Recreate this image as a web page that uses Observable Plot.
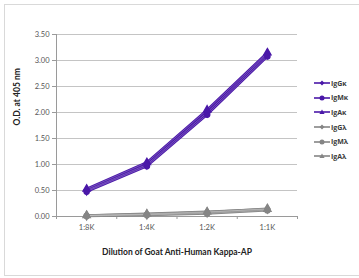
<!DOCTYPE html>
<html>
<head>
<meta charset="utf-8">
<script src="https://cdn.jsdelivr.net/npm/d3@7"></script>
<script src="https://cdn.jsdelivr.net/npm/@observablehq/plot@0.6"></script>
<style>
  body { margin: 0; background: #fff; }
  #wrap { position: relative; width: 359px; height: 278px; overflow: hidden; font-family: Lato, "Open Sans", sans-serif; }
  #frame { position: absolute; left: 4px; top: 4px; width: 370px; height: 272px; border: 1px solid #d9d9d9; box-sizing: border-box; }
  #legend { position: absolute; left: 314px; top: 76px; font-size: 7px; font-weight: bold; color: #3a3a3a; font-family: "Open Sans", "DejaVu Sans", sans-serif; }
  .item { display: flex; align-items: center; height: 14.6px; }
  .item svg { margin-right: 1px; }
</style>
</head>
<body>
<div id="wrap"><div id="frame"></div><div id="chart"></div><div id="legend"></div></div>
<script>
const dilutions = ["1:8K", "1:4K", "1:2K", "1:1K"];
const seriesNames = ["IgGκ", "IgMκ", "IgAκ", "IgGλ", "IgMλ", "IgAλ"];
const IgGk = [0.50, 1.00, 2.00, 3.12];
const IgMk = [0.48, 0.97, 1.96, 3.08];
const IgAk = [0.53, 1.04, 2.05, 3.15];
const IgGl = [0.02, 0.04, 0.08, 0.15];
const IgMl = [0.01, 0.03, 0.06, 0.12];
const IgAl = [0.02, 0.05, 0.09, 0.14];
const yTicks = [0, 0.5, 1, 1.5, 2, 2.5, 3, 3.5];

const purple = "#4a18a8";
const gray = "#858585";
const seriesValues = [IgGk, IgMk, IgAk, IgGl, IgMl, IgAl];
const colors = [purple, purple, purple, gray, gray, gray];
const symbols = ["diamond", "circle", "triangle", "diamond", "circle", "triangle"];

const data = [];
seriesNames.forEach((s, si) => {
  seriesValues[si].forEach((v, i) => data.push({series: s, idx: i + 0.5, value: v, color: colors[si], symbol: symbols[si]}));
});

const chart = Plot.plot({
  width: 359,
  height: 278,
  marginLeft: 56,
  marginRight: 62,
  marginTop: 34,
  marginBottom: 62,
  style: {fontFamily: "Lato, 'Open Sans', sans-serif", background: "transparent"},
  x: {domain: [0, 4]},
  y: {domain: [0, 3.5]},
  marks: [
    Plot.gridY(yTicks, {stroke: "#c4c4c4", strokeOpacity: 1}),
    Plot.ruleX([0], {stroke: "#9a9a9a"}),
    Plot.ruleY([0], {stroke: "#9a9a9a"}),
    Plot.axisY(yTicks, {tickFormat: d => d.toFixed(2), tickSize: 4, tickPadding: 3, fontSize: 7.5, fill: "#555", stroke: "#9a9a9a", label: null}),
    Plot.axisX([0, 1, 2, 3, 4], {tickFormat: () => "", tickSize: 3, stroke: "#9a9a9a", label: null}),
    Plot.axisX(dilutions.map((d, i) => i + 0.5), {tickFormat: v => dilutions[Math.floor(v)], tickSize: 0, tickPadding: 8, fontSize: 7.5, fill: "#555", label: null}),
    Plot.line(data, {x: "idx", y: "value", z: "series", stroke: "color", strokeWidth: 2.6, strokeLinejoin: "round"}),
    Plot.line(data, {x: "idx", y: "value", z: "series", stroke: "#ffffff", strokeOpacity: 0.35, strokeWidth: 0.7}),
    Plot.dot(data, {x: "idx", y: "value", symbol: "symbol", fill: "color", stroke: "color", r: 2.6}),
    Plot.text(["O.D. at 405 nm"], {frameAnchor: "left", dx: -39, rotate: -90, fontSize: 8.5, fontWeight: "bold", fill: "#222"}),
    Plot.text(["Dilution of Goat Anti-Human Kappa-AP"], {frameAnchor: "bottom", dy: 38, fontSize: 8.5, fontWeight: "bold", fill: "#222"})
  ]
});
document.getElementById("chart").appendChild(chart);

const legend = document.getElementById("legend");
const symPaths = {
  diamond: "M8,2.4 L10.4,5 L8,7.6 L5.6,5 Z",
  triangle: "M8,2.4 L10.6,7 L5.4,7 Z"
};
seriesNames.forEach((s, i) => {
  const c = colors[i];
  const sym = symbols[i];
  const shape = sym === "circle"
    ? `<circle cx="8" cy="5" r="2.5" fill="${c}"/>`
    : `<path d="${symPaths[sym]}" fill="${c}"/>`;
  const item = document.createElement("div");
  item.className = "item";
  item.innerHTML = `<svg width="16" height="10"><line x1="0" x2="16" y1="5" y2="5" stroke="${c}" stroke-width="1.6"/>${shape}</svg><span>${s}</span>`;
  legend.appendChild(item);
});
</script>
</body>
</html>
